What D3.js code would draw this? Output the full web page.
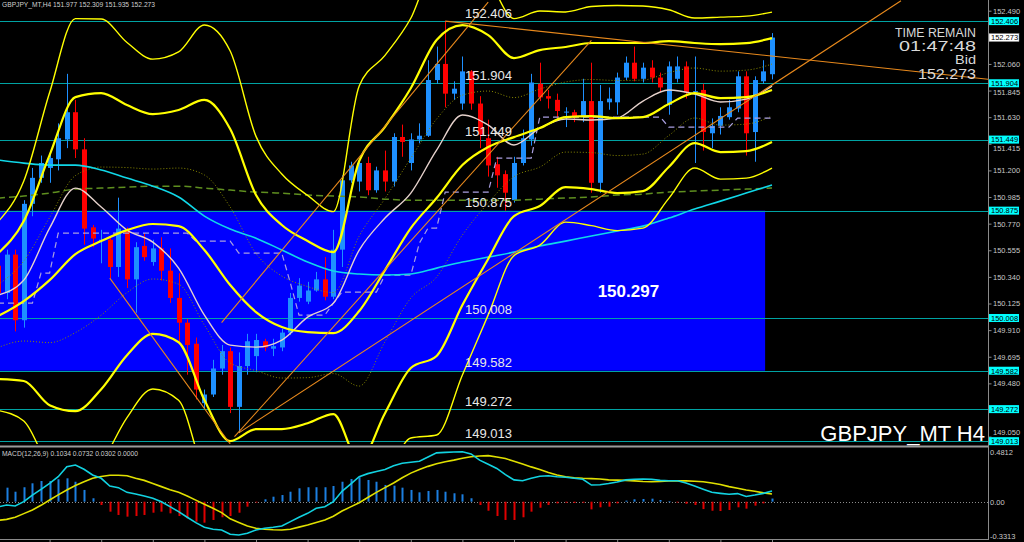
<!DOCTYPE html>
<html><head><meta charset="utf-8">
<script src="https://cdn.jsdelivr.net/npm/d3@7"></script>
<style>
html,body{margin:0;padding:0;background:#000;overflow:hidden;}
svg{display:block;}
text{font-family:"Liberation Sans",Arial,sans-serif;}
</style></head>
<body>
<svg id="chart" width="1024" height="542"></svg>
<script>
// ---------------- DATA ----------------
const symbolTitle = "GBPJPY_MT,H4  151.977 152.309 151.935 152.273";
const macdTitle = "MACD(12,26,9) 0.1034 0.0732 0.0302 0.0000";
const bigLabel = "GBPJPY_MT H4";
const timerLines = ["TIME REMAIN", "01:47:48", "Bid", "152.273"];

const opens  = [150.43,150.21,150.52,149.99,150.93,151.14,151.22,151.29,151.45,151.67,151.37,150.74,150.63,150.64,150.42,150.72,150.32,150.59,150.46,150.57,150.39,150.17,149.97,149.80,149.32,149.39,149.60,149.74,149.29,149.62,149.70,149.82,149.76,149.77,149.89,150.17,150.14,150.23,150.32,150.18,150.56,151.12,151.11,151.26,151.04,151.20,151.11,151.47,151.26,151.45,151.48,151.93,152.06,151.82,151.74,152.00,151.74,151.46,151.25,151.17,150.96,151.26,151.45,151.90,151.80,151.77,151.67,151.67,151.63,151.76,151.10,151.75,151.75,151.95,152.07,151.94,152.03,151.95,151.73,151.94,152.04,151.83,151.85,151.50,151.56,151.63,151.70,151.96,151.51,151.92,151.977];
const highs  = [150.48,150.56,150.56,150.96,151.22,151.32,151.33,151.58,151.98,151.77,151.46,150.76,150.72,150.66,150.98,150.74,150.62,150.69,150.64,150.66,150.57,150.37,150.00,149.85,149.43,149.67,149.79,149.77,149.73,149.88,149.88,149.84,149.84,149.92,150.21,150.33,150.30,150.38,150.50,150.72,151.16,151.27,151.29,151.31,151.23,151.36,151.50,151.57,151.50,151.58,152.09,152.20,152.406,151.92,152.12,152.01,151.80,151.61,151.31,151.20,151.31,151.53,151.98,152.07,151.85,151.82,151.71,151.69,151.94,152.07,151.89,151.87,151.99,152.12,152.20,152.07,152.09,151.99,152.08,152.12,152.08,152.12,151.90,151.62,151.71,151.77,152.00,152.00,151.96,152.09,152.309];
const lows   = [150.15,150.16,149.90,149.93,150.83,151.10,151.10,151.20,151.38,151.30,150.60,150.58,150.45,150.33,150.34,150.25,150.05,150.47,150.43,150.31,150.13,149.80,149.55,149.35,149.28,149.37,149.55,149.24,149.08,149.55,149.57,149.74,149.70,149.74,149.87,150.14,150.12,150.22,150.15,150.16,150.42,151.10,151.03,151.00,151.02,151.03,151.07,151.31,151.20,151.42,151.47,151.90,151.71,151.77,151.69,151.69,151.38,151.15,151.06,150.875,150.94,151.24,151.40,151.76,151.70,151.61,151.55,151.59,151.59,151.02,151.02,151.69,151.65,151.93,151.92,151.91,151.91,151.83,151.65,151.91,151.78,151.26,151.36,151.38,151.49,151.61,151.67,151.32,151.27,151.90,151.935];
const closes = [150.21,150.52,149.99,150.93,151.14,151.26,151.30,151.46,151.67,151.37,150.73,150.65,150.64,150.42,150.73,150.32,150.58,150.50,150.57,150.39,150.17,149.97,149.79,149.43,149.39,149.60,149.74,149.29,149.62,149.82,149.83,149.77,149.78,149.89,150.17,150.27,150.23,150.32,150.18,150.56,151.12,151.24,151.26,151.04,151.20,151.11,151.47,151.43,151.45,151.48,151.93,152.06,151.82,151.86,152.00,151.74,151.49,151.24,151.16,151.02,151.26,151.46,151.91,151.79,151.78,151.68,151.675,151.63,151.76,151.10,151.76,151.78,151.95,152.07,151.94,152.03,151.95,151.87,152.04,152.04,151.83,151.84,151.51,151.56,151.64,151.71,151.96,151.50,151.93,152.00,152.273];

// indicator samples (every third bar)
const sampleIdx = [0,3,6,9,12,15,18,21,24,27,30,33,36,39,42,45,48,51,54,57,60,63,66,69,72,75,78,81,84,87,90];
const bbMid = [150.023,150.145,150.314,150.524,150.629,150.718,150.767,150.750,150.557,150.274,150.056,149.935,149.894,149.886,150.064,150.395,150.734,150.977,151.243,151.389,151.469,151.542,151.631,151.639,151.623,151.631,151.736,151.825,151.784,151.792,151.849];
const bbDev = [0.254,0.323,0.505,0.634,0.598,0.505,0.444,0.469,0.606,0.630,0.473,0.412,0.368,0.327,0.606,0.578,0.565,0.638,0.565,0.452,0.319,0.315,0.283,0.295,0.303,0.299,0.254,0.202,0.218,0.218,0.210];
const maCyan = [151.284,151.259,151.243,151.243,151.203,151.138,151.073,150.985,150.831,150.726,150.653,150.557,150.460,150.387,150.363,150.355,150.363,150.411,150.460,150.500,150.540,150.589,150.629,150.670,150.710,150.750,150.815,150.888,150.952,151.017,151.082];
const maGreen = [150.977,150.993,151.017,151.049,151.057,151.065,151.073,151.073,151.057,151.041,151.025,151.017,151.001,150.993,150.985,150.968,150.960,150.960,150.960,150.960,150.960,150.968,150.977,150.985,151.001,151.009,151.025,151.033,151.041,151.049,151.057];
const maWhite = [150.193,150.314,150.734,151.057,150.904,150.718,150.621,150.411,150.031,149.789,149.773,149.830,150.015,150.128,150.557,150.815,151.017,151.364,151.647,151.566,151.405,151.542,151.615,151.607,151.623,151.760,151.849,151.817,151.752,151.776,151.881];
const kijunIdx = [0,4,5,6,7,22,23,27,28,33,34,35,38,39,40,44,45,48,49,50,51,52,57,58,62,63,77,78,85,86,90];
const kijunVal = [150.128,150.128,150.371,150.371,150.694,150.694,150.629,150.629,150.532,150.532,150.290,150.031,150.031,150.128,150.217,150.217,150.355,150.355,150.613,150.734,150.734,151.025,151.025,151.300,151.300,151.631,151.631,151.550,151.550,151.623,151.623];

// trend lines
const trendStartIdx   = [13, 26, 28, 27.5, 52];
const trendStartPrice = [150.33, 149.97, 149.08, 149.05, 152.406];
const trendEndIdx     = [27, 57, 105, 69, 120];
const trendEndPrice   = [148.99, 152.56, 152.57, 152.25, 151.90];

// horizontal levels and zone
const levels = [152.406, 151.904, 151.449, 150.875, 150.008, 149.582, 149.272, 149.013];
const levelLabelIdx = 54.3;
const zoneTop = 150.875, zoneBottom = 149.582, zoneStartIdx = -1, zoneEndIdx = 89.2;
const zoneLabel = "150.297", zoneLabelIdx = 73.3, zoneLabelPrice = 150.23;
const bidPrice = 152.273;

// axes
const priceTicks = [152.490,152.060,151.845,151.630,151.415,151.200,150.985,150.770,150.555,150.340,150.125,149.910,149.695,149.480,149.050];
const macdTicks = [0.4812, 0, -0.3313];
const macdTickLabels = ["0.4812", "0.00", "-0.3313"];
const timeTickIdx = [6,12,18,24,30,36,42,48,54,60,66,72,78,84,90];

// MACD
const macdMain = [-0.05,-0.032,-0.041,0.0,0.064,0.119,0.177,0.241,0.337,0.353,0.312,0.257,0.225,0.151,0.135,0.09,0.074,0.055,0.033,0.0,-0.048,-0.096,-0.15,-0.202,-0.246,-0.266,-0.272,-0.314,-0.32,-0.304,-0.272,-0.256,-0.246,-0.234,-0.192,-0.15,-0.112,-0.064,-0.048,0.0,0.10,0.17,0.24,0.27,0.29,0.31,0.345,0.37,0.38,0.39,0.43,0.47,0.475,0.478,0.481,0.46,0.40,0.36,0.32,0.26,0.21,0.202,0.225,0.245,0.25,0.24,0.235,0.225,0.216,0.16,0.163,0.175,0.19,0.21,0.216,0.218,0.215,0.205,0.202,0.202,0.18,0.15,0.12,0.09,0.08,0.071,0.078,0.05,0.064,0.08,0.1034];
const macdSignal = [-0.18,-0.17,-0.15,-0.115,-0.08,-0.035,0.016,0.065,0.113,0.155,0.192,0.225,0.243,0.255,0.255,0.25,0.225,0.205,0.175,0.145,0.115,0.09,0.055,0.015,-0.025,-0.064,-0.105,-0.165,-0.2,-0.235,-0.256,-0.265,-0.27,-0.272,-0.265,-0.245,-0.224,-0.2,-0.176,-0.14,-0.09,-0.05,-0.01,0.04,0.09,0.135,0.18,0.23,0.275,0.31,0.34,0.365,0.385,0.40,0.418,0.432,0.44,0.443,0.43,0.415,0.39,0.363,0.335,0.31,0.28,0.257,0.24,0.23,0.225,0.222,0.218,0.21,0.208,0.205,0.2,0.194,0.192,0.195,0.2,0.202,0.20,0.197,0.192,0.18,0.165,0.145,0.13,0.113,0.10,0.085,0.0732];
const macdHist = [0.12,0.135,0.096,0.139,0.177,0.199,0.199,0.216,0.225,0.192,0.113,0.033,-0.032,-0.096,-0.128,-0.144,-0.138,-0.128,-0.106,-0.096,-0.112,-0.138,-0.16,-0.192,-0.202,-0.176,-0.15,-0.138,-0.106,-0.048,-0.006,0.023,0.048,0.064,0.096,0.129,0.139,0.139,0.139,0.151,0.192,0.218,0.235,0.209,0.192,0.161,0.154,0.135,0.113,0.09,0.103,0.113,0.096,0.081,0.071,0.033,-0.032,-0.087,-0.138,-0.176,-0.176,-0.15,-0.096,-0.058,-0.032,-0.016,-0.01,-0.012,-0.01,-0.074,-0.054,-0.048,-0.016,0.01,0.023,0.026,0.029,0.016,0.003,-0.005,-0.02,-0.032,-0.071,-0.087,-0.09,-0.08,-0.054,-0.067,-0.038,-0.016,0.0302];

// ---------------- DRAW ----------------
const W = 1024, H = 542, PR = 988, MAIN_B = 444;
const x = d3.scaleLinear().domain([0, 90]).range([-2, 772]);
const y = d3.scaleLinear().domain([149.05, 152.49]).range([436.6, 10.7]);
const ym = d3.scaleLinear().domain([-0.3313, 0.4812]).range([536.1, 451.7]);
const crisp = v => Math.round(v) + 0.5;

const svg = d3.select('#chart');
svg.append('rect').attr('width', W).attr('height', H).attr('fill', '#000');
const defs = svg.append('defs');
defs.append('clipPath').attr('id', 'clipMain').append('rect').attr('x', 0).attr('y', 0).attr('width', PR).attr('height', MAIN_B);
defs.append('clipPath').attr('id', 'clipMacd').append('rect').attr('x', 0).attr('y', 447).attr('width', PR).attr('height', 92);

const main = svg.append('g').attr('clip-path', 'url(#clipMain)');

// zone rectangle
main.append('rect')
  .attr('x', x(zoneStartIdx)).attr('y', y(zoneTop))
  .attr('width', x(zoneEndIdx) - x(zoneStartIdx)).attr('height', y(zoneBottom) - y(zoneTop))
  .attr('fill', '#0000ff');

// level lines
main.selectAll('line.level').data(levels).join('line').attr('class', 'level')
  .attr('x1', 0).attr('x2', PR).attr('y1', d => crisp(y(d))).attr('y2', d => crisp(y(d)))
  .attr('stroke', '#00a3a3').attr('stroke-width', 1);

// candles
const idx = d3.range(opens.length);
const cg = main.append('g');
idx.forEach(i => {
  const up = closes[i] >= opens[i];
  const col = up ? '#1e90ff' : '#ff0000';
  const cx = crisp(x(i));
  cg.append('line').attr('x1', cx).attr('x2', cx).attr('y1', y(highs[i])).attr('y2', y(lows[i]))
    .attr('stroke', col).attr('stroke-width', 1);
  const top = y(Math.max(opens[i], closes[i])), bot = y(Math.min(opens[i], closes[i]));
  cg.append('rect').attr('x', Math.round(x(i)) - 2).attr('width', 5)
    .attr('y', top).attr('height', Math.max(1, bot - top)).attr('fill', col);
});

// Bollinger-type bands
function band(k) {
  return d3.line().x((d, j) => x(sampleIdx[j])).y((d, j) => y(bbMid[j] + k * bbDev[j])).curve(d3.curveMonotoneX)(bbMid);
}
[1, -1].forEach(k => {
  main.append('path').attr('d', band(k)).attr('fill', 'none').attr('stroke', '#8a8a00').attr('stroke-width', 1).attr('stroke-dasharray', '1,2');
});
function series(vals) {
  return d3.line().x((d, j) => x(sampleIdx[j])).y(d => y(d)).curve(d3.curveMonotoneX)(vals);
}
main.append('path').attr('d', series(maGreen)).attr('fill', 'none').attr('stroke', '#5f8f1f').attr('stroke-width', 1.5).attr('stroke-dasharray', '7,4');
main.append('path').attr('d', d3.line().x((d, j) => x(kijunIdx[j])).y(d => y(d))(kijunVal))
  .attr('fill', 'none').attr('stroke', '#a99fe0').attr('stroke-width', 1.2).attr('stroke-dasharray', '6,4');
main.append('path').attr('d', series(maCyan)).attr('fill', 'none').attr('stroke', '#10d8e8').attr('stroke-width', 1.6);
main.append('path').attr('d', series(maWhite)).attr('fill', 'none').attr('stroke', '#e6d2cc').attr('stroke-width', 1.4);
[[3, 1.4], [-3, 1.4], [2, 2.2], [-2, 2.2], [0, 2.2]].forEach(([k, w]) => {
  main.append('path').attr('d', band(k)).attr('fill', 'none').attr('stroke', '#ffff00').attr('stroke-width', w);
});

// trend lines
trendStartIdx.forEach((s, j) => {
  main.append('line')
    .attr('x1', x(s)).attr('y1', y(trendStartPrice[j]))
    .attr('x2', x(trendEndIdx[j])).attr('y2', y(trendEndPrice[j]))
    .attr('stroke', '#e8891c').attr('stroke-width', 1.1);
});

// level labels
main.selectAll('text.lvl').data(levels).join('text').attr('class', 'lvl')
  .attr('x', x(levelLabelIdx)).attr('y', d => y(d) - 3.5)
  .attr('fill', '#e8e8e8').attr('font-size', 13).text(d => d.toFixed(3));

// zone label
main.append('text').attr('x', x(zoneLabelIdx)).attr('y', y(zoneLabelPrice) + 6)
  .attr('text-anchor', 'middle').attr('fill', '#ffffff').attr('font-size', 17).attr('font-weight', 'bold')
  .text(zoneLabel);

// timer block
const timerSpec = [[36.5, 12.5, 81], [50.5, 14.5, 77], [63.5, 13, 21], [79, 14.5, 58]];
const tb = svg.append('g').attr('fill', '#d9d9d9').attr('text-anchor', 'end');
timerSpec.forEach(([ty, fs, tl], j) => {
  tb.append('text').attr('x', 976).attr('y', ty).attr('font-size', fs)
    .attr('textLength', tl).attr('lengthAdjust', 'spacingAndGlyphs').text(timerLines[j]);
});

// header
svg.append('text').attr('x', 2).attr('y', 7).attr('fill', '#cfcfcf').attr('font-size', 7.5)
  .attr('textLength', 153).attr('lengthAdjust', 'spacingAndGlyphs').text(symbolTitle);

// ---- MACD panel ----
const mg = svg.append('g').attr('clip-path', 'url(#clipMacd)');
mg.append('line').attr('x1', 0).attr('x2', PR).attr('y1', crisp(ym(0))).attr('y2', crisp(ym(0)))
  .attr('stroke', '#8c8c8c').attr('stroke-dasharray', '1,2');
idx.forEach(i => {
  const v = macdHist[i];
  const y0 = ym(0), y1 = ym(v);
  mg.append('rect').attr('x', Math.round(x(i)) - 0.5).attr('width', 2)
    .attr('y', Math.min(y0, y1)).attr('height', Math.max(0.8, Math.abs(y1 - y0)))
    .attr('fill', v >= 0 ? '#1c7fe0' : '#e00000');
});
const ml = d3.line().x((d, i) => x(i)).y(d => ym(d));
mg.append('path').attr('d', ml(macdSignal)).attr('fill', 'none').attr('stroke', '#e0e000').attr('stroke-width', 1.6);
mg.append('path').attr('d', ml(macdMain)).attr('fill', 'none').attr('stroke', '#12d2e0').attr('stroke-width', 1.6);
svg.append('text').attr('x', 2).attr('y', 455.5).attr('fill', '#cfcfcf').attr('font-size', 7.5)
  .attr('textLength', 136).attr('lengthAdjust', 'spacingAndGlyphs').text(macdTitle);

// ---- frame ----
svg.append('line').attr('x1', 0).attr('x2', PR).attr('y1', 446.5).attr('y2', 446.5).attr('stroke', '#9a9a9a').attr('stroke-width', 2);
svg.append('line').attr('x1', 0).attr('x2', PR + 0.5).attr('y1', 539.5).attr('y2', 539.5).attr('stroke', '#8a8a8a');

// big symbol label
svg.append('text').attr('x', 985).attr('y', 441).attr('text-anchor', 'end')
  .attr('fill', '#ffffff').attr('font-size', 22).text(bigLabel);

// right price axis
const ax = svg.append('g').attr('transform', `translate(${PR + 0.5},0)`)
  .call(d3.axisRight(y).tickValues(priceTicks).tickFormat(d3.format('.3f')).tickSize(3).tickPadding(1.5));
ax.select('.domain').attr('stroke', '#8a8a8a').attr('d', 'M0,0V540');
ax.selectAll('.tick line').attr('stroke', '#8a8a8a');
ax.selectAll('.tick text').attr('fill', '#c8c8c8').attr('font-size', 7.5).attr('font-family', '"Liberation Sans",Arial,sans-serif')
  .attr('dy', d => {
    let shift = 0;
    levels.concat([bidPrice]).forEach(l => {
      const dist = y(d) - y(l);
      if (Math.abs(dist) < 8.6) shift = (dist >= 0 ? 1 : -1) * (8.6 - Math.abs(dist));
    });
    return (0.32 + shift / 7.5) + 'em';
  });

// MACD axis
const max = svg.append('g').attr('transform', `translate(${PR + 0.5},0)`)
  .call(d3.axisRight(ym).tickValues(macdTicks).tickFormat((d, i) => macdTickLabels[i]).tickSize(0).tickPadding(1.5));
max.select('.domain').remove();
max.selectAll('.tick text').attr('fill', '#c8c8c8').attr('font-size', 7.5).attr('font-family', '"Liberation Sans",Arial,sans-serif');

// time ticks
const tx = svg.append('g').attr('transform', 'translate(0,539.5)')
  .call(d3.axisBottom(x).tickValues(timeTickIdx).tickSize(3).tickFormat(''));
tx.select('.domain').remove();
tx.selectAll('.tick line').attr('stroke', '#8a8a8a');

// right-side level boxes
const boxes = svg.append('g');
levels.forEach(l => {
  const cy = y(l);
  boxes.append('rect').attr('x', PR + 1).attr('y', cy - 4).attr('width', 30).attr('height', 8).attr('fill', '#00ffff');
  boxes.append('text').attr('x', PR + 3).attr('y', cy + 2.8).attr('font-size', 7.5).attr('fill', '#000').text(l.toFixed(3));
});
const by = y(bidPrice);
boxes.append('rect').attr('x', PR + 1).attr('y', by - 4).attr('width', 30).attr('height', 8).attr('fill', '#ffffff').attr('stroke', '#8a8a8a').attr('stroke-width', 0.5);
boxes.append('text').attr('x', PR + 3).attr('y', by + 2.8).attr('font-size', 7.5).attr('fill', '#000').text(bidPrice.toFixed(3));
</script>
</body></html>
